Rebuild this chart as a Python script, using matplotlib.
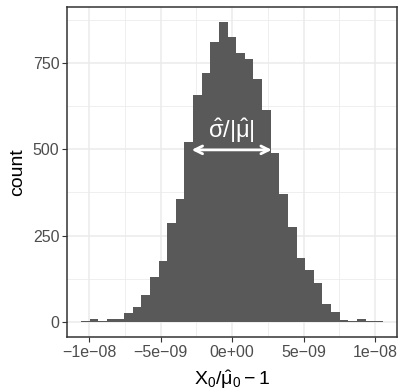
import numpy as np
import matplotlib
matplotlib.use("Agg")
import matplotlib.pyplot as plt

# histogram: 35 bins
bin_lo = -1.056e-8
bin_width = 6.03e-10
counts = [4, 8, 3, 10, 8, 25, 44, 78, 130, 175, 287, 356, 520, 658, 721,
          811, 868, 826, 778, 762, 702, 614, 490, 370, 274, 186, 149, 112,
          52, 29, 7, 4, 8, 3, 3]

x_ticks = [-1e-8, -5e-9, 0, 5e-9, 1e-8]
x_labels = ["\u22121e\u221208", "\u22125e\u221209", "0e+00", "5e\u221209", "1e\u221208"]
y_ticks = [0, 250, 500, 750]

# arrow for sigma/|mu|
arrow_x = (-2.82e-9, 2.78e-9)
arrow_y = 498
label_y = 552

plt.rcParams["font.family"] = ["Liberation Sans", "DejaVu Sans"]
plt.rcParams["mathtext.fontset"] = "custom"
plt.rcParams["mathtext.rm"] = "Liberation Sans"
plt.rcParams["mathtext.it"] = "Liberation Sans:italic"
plt.rcParams["mathtext.bf"] = "Liberation Sans:bold"
plt.rcParams["mathtext.sf"] = "DejaVu Sans"

fig = plt.figure(figsize=(3.99, 3.90), dpi=100)
ax = fig.add_axes([0.168, 0.136, 0.827, 0.846])

edges = bin_lo + bin_width * np.arange(len(counts) + 1)
ax.stairs(counts, edges, fill=True, color="#595959", lw=0, zorder=2)

ax.set_xlim(-1.154e-8, 1.154e-8)
ax.set_ylim(-43.4, 911.4)
ax.set_xticks(x_ticks)
ax.set_xticklabels(x_labels)
ax.set_yticks(y_ticks)
ax.set_xticks([-7.5e-9, -2.5e-9, 2.5e-9, 7.5e-9], minor=True)
ax.set_yticks([125, 375, 625, 875], minor=True)
ax.grid(which="major", color="#EBEBEB", lw=1.1, zorder=0)
ax.grid(which="minor", color="#EBEBEB", lw=0.55, zorder=0)
ax.set_axisbelow(True)
ax.tick_params(which="major", length=3.5, width=0.8, color="#333333",
               labelcolor="#4D4D4D", labelsize=11.5, pad=2)
ax.tick_params(which="minor", length=0)
for s in ax.spines.values():
    s.set_color("#333333")
    s.set_linewidth(1.1)

ax.set_xlabel(r"$\mathrm{X}_0/\hat{\mathrm{\mu}}_0-1$", fontsize=14, labelpad=6)
ax.set_ylabel("count", fontsize=14, labelpad=5)

ax.annotate("", xy=(arrow_x[0], arrow_y), xytext=(arrow_x[1], arrow_y),
            arrowprops=dict(arrowstyle="<->", color="white", lw=2,
                            shrinkA=0, shrinkB=0, mutation_scale=14),
            zorder=3)
ax.text(np.mean(arrow_x), label_y, r"$\hat{\mathrm{\sigma}}/|\hat{\mathrm{\mu}}|$",
        color="white", fontsize=17, ha="center", va="center", zorder=3)

fig.savefig("out.png", dpi=100)
